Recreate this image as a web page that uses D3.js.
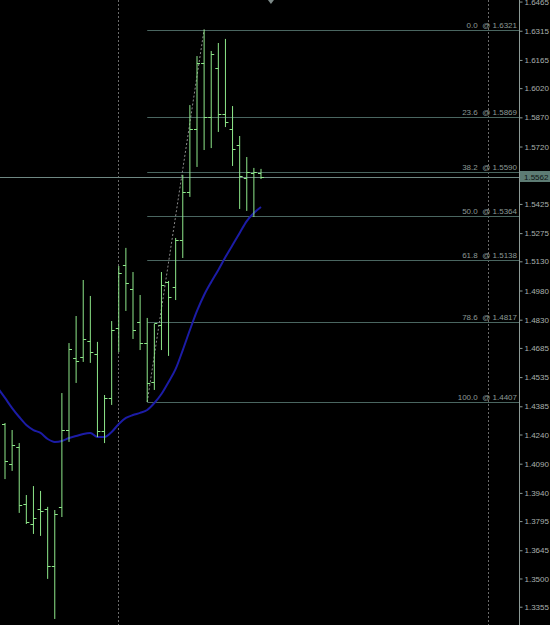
<!DOCTYPE html>
<html>
<head>
<meta charset="utf-8">
<script src="https://cdn.jsdelivr.net/npm/d3@7"></script>
<style>
html, body { margin: 0; padding: 0; background: #000; overflow: hidden; }
svg { display: block; }
text { font-family: "Liberation Sans", Arial, sans-serif; font-size: 8px; }
</style>
</head>
<body>
<svg id="chart"></svg>
<script>
'use strict';
var width = 550,
    height = 625;

// OHLC bars, left to right
var opens  = [1.4294,1.4088,1.4176,1.3883,1.3780,1.3857,1.3857,1.3564,1.3868,1.4263,1.4633,1.4638,1.4721,1.4654,1.4258,1.4428,1.4787,1.5111,1.4988,1.4818,1.4710,1.4510,1.4803,1.5024,1.4998,1.5240,1.5486,1.5810,1.6149,1.5872,1.6124,1.5887,1.5810,1.5728,1.5558,1.5584,1.5584];
var highs  = [1.4299,1.4263,1.4196,1.3929,1.3975,1.3950,1.3868,1.3852,1.4453,1.4710,1.4849,1.5034,1.4952,1.4716,1.4443,1.4823,1.5106,1.5199,1.5075,1.4957,1.4839,1.4808,1.5075,1.5029,1.5250,1.5574,1.5933,1.6185,1.6321,1.6211,1.6252,1.6273,1.5928,1.5774,1.5666,1.5610,1.5605];
var lows   = [1.4011,1.4053,1.3837,1.3780,1.3729,1.3719,1.3498,1.3292,1.3816,1.4202,1.4505,1.4613,1.4608,1.4227,1.4196,1.4392,1.4664,1.4875,1.4731,1.4674,1.4407,1.4469,1.4674,1.4644,1.4931,1.5147,1.5461,1.5615,1.5702,1.5712,1.5795,1.5820,1.5620,1.5399,1.5389,1.5358,1.5553];
var closes = [1.4104,1.4186,1.3878,1.3790,1.3811,1.3847,1.3564,1.3832,1.4263,1.4680,1.4618,1.4731,1.4664,1.4258,1.4428,1.4777,1.5070,1.5019,1.4777,1.4710,1.4505,1.4813,1.5008,1.4947,1.5240,1.5486,1.5810,1.6149,1.5872,1.6196,1.5887,1.5846,1.5707,1.5569,1.5589,1.5589,1.5562];

// moving average, starts one bar before the first visible bar
var maStart = -1;
var maValues = [1.4479,1.4428,1.4376,1.4330,1.4289,1.4263,1.4248,1.4217,1.4202,1.4207,1.4222,1.4232,1.4243,1.4248,1.4227,1.4227,1.4253,1.4294,1.4325,1.4340,1.4351,1.4366,1.4402,1.4448,1.4510,1.4577,1.4674,1.4777,1.4875,1.4957,1.5024,1.5086,1.5152,1.5214,1.5276,1.5337,1.5378,1.5409];

// fibonacci retracement between bar 20 (low) and bar 28 (high)
var fibFrom = 20, fibTo = 28;
var fibLow = 1.4407, fibHigh = 1.6321;
var fibLevels = [0.0, 23.6, 38.2, 50.0, 61.8, 78.6, 100.0];

var priceTicks = ['1.6465','1.6315','1.6165','1.6020','1.5870','1.5720','1.5425','1.5275','1.5130','1.4980','1.4830','1.4685','1.4535','1.4385','1.4240','1.4090','1.3940','1.3795','1.3645','1.3500','1.3355'];
var lastPrice = 1.5562;
var separators = [16, 68];
var shiftMarker = 37.4;

var axisX = 519;
var x = d3.scaleLinear().domain([0, 36]).range([5, 261]);
var y = d3.scaleLinear().domain([1.3261, 1.6473]).range([height, 0]);

var svg = d3.select('#chart').attr('width', width).attr('height', height);
svg.append('rect').attr('width', width).attr('height', height).attr('fill', '#000');

// period separators
svg.selectAll('.sep')
    .data(separators)
    .enter()
    .append('line')
    .attr('x1', function(d){return Math.round(x(d)) - 0.5;})
    .attr('x2', function(d){return Math.round(x(d)) - 0.5;})
    .attr('y1', 0)
    .attr('y2', height)
    .attr('stroke', '#6a6a6a')
    .attr('stroke-dasharray', '2,2');

// fib levels
var fibs = fibLevels.map(function(l){
    var p = fibHigh - (fibHigh - fibLow) * l / 100;
    return {level: l, price: p};
});
svg.selectAll('.fib')
    .data(fibs)
    .enter()
    .append('line')
    .attr('x1', x(fibFrom))
    .attr('x2', axisX)
    .attr('y1', function(d){return Math.round(y(d.price)) + 0.5;})
    .attr('y2', function(d){return Math.round(y(d.price)) + 0.5;})
    .attr('stroke', '#4a6660')
    .attr('stroke-width', 1);
svg.selectAll('.fibLabel')
    .data(fibs)
    .enter()
    .append('text')
    .attr('x', axisX - 2)
    .attr('y', function(d){return Math.round(y(d.price)) - 2;})
    .attr('text-anchor', 'end')
    .attr('fill', '#8c9a96')
    .style('white-space', 'pre')
    .text(function(d){return d.level.toFixed(1) + '  @ ' + d.price.toFixed(4);});

// fib trend line
svg.append('line')
    .attr('x1', x(fibFrom)).attr('y1', y(fibLow))
    .attr('x2', x(fibTo)).attr('y2', y(fibHigh))
    .attr('stroke', '#8a8a8a')
    .attr('stroke-dasharray', '2,2');

// current price line
svg.append('line')
    .attr('x1', 0).attr('x2', axisX)
    .attr('y1', Math.round(y(lastPrice)) + 0.5)
    .attr('y2', Math.round(y(lastPrice)) + 0.5)
    .attr('stroke', '#6f8883');

// moving average
var line = d3.line()
    .x(function(d, i){return x(i + maStart);})
    .y(function(d){return y(d);})
    .curve(d3.curveMonotoneX);
svg.append('path')
    .datum(maValues)
    .attr('d', line)
    .attr('fill', 'none')
    .attr('stroke', '#1c1ca6')
    .attr('stroke-width', 2);

// bars
var bars = opens.map(function(o, i){
    return {i: i, o: o, h: highs[i], l: lows[i], c: closes[i]};
});
var barColor = '#8ee88a';
var g = svg.selectAll('.bar')
    .data(bars)
    .enter()
    .append('g')
    .attr('class', 'bar');
g.append('line')
    .attr('x1', function(d){return x(d.i);})
    .attr('x2', function(d){return x(d.i);})
    .attr('y1', function(d){return y(d.h);})
    .attr('y2', function(d){return y(d.l);})
    .attr('stroke', barColor);
g.append('line')
    .attr('x1', function(d){return x(d.i) - 3;})
    .attr('x2', function(d){return x(d.i);})
    .attr('y1', function(d){return Math.round(y(d.o)) + 0.5;})
    .attr('y2', function(d){return Math.round(y(d.o)) + 0.5;})
    .attr('stroke', barColor);
g.append('line')
    .attr('x1', function(d){return x(d.i);})
    .attr('x2', function(d){return x(d.i) + 3;})
    .attr('y1', function(d){return Math.round(y(d.c)) + 0.5;})
    .attr('y2', function(d){return Math.round(y(d.c)) + 0.5;})
    .attr('stroke', barColor);

// price axis
var axis = d3.axisRight(y)
    .tickValues(priceTicks.map(Number))
    .tickFormat(d3.format('.4f'))
    .tickSize(3)
    .tickPadding(2);
var ag = svg.append('g')
    .attr('transform', 'translate(' + (axisX + 0.5) + ',0)')
    .call(axis);
ag.select('.domain').attr('stroke', '#8c9a96').attr('d', 'M0,0V' + height);
ag.selectAll('.tick line').attr('stroke', '#8c9a96');
ag.selectAll('.tick text').attr('fill', '#a8b0ad').style('font-size', '8px').attr('font-family', null);

// last price box
var ly = Math.round(y(lastPrice));
svg.append('rect')
    .attr('x', axisX + 1).attr('y', ly - 6)
    .attr('width', width - axisX - 1).attr('height', 11)
    .attr('fill', '#5d7c74');
svg.append('text')
    .attr('x', axisX + 5).attr('y', ly + 3)
    .attr('fill', '#0c1412')
    .text(lastPrice.toFixed(4));

// chart shift marker
var sx = x(shiftMarker);
svg.append('path')
    .attr('d', 'M' + (sx - 3) + ',0L' + (sx + 3) + ',0L' + sx + ',4Z')
    .attr('fill', '#7d8a88');
</script>
</body>
</html>
